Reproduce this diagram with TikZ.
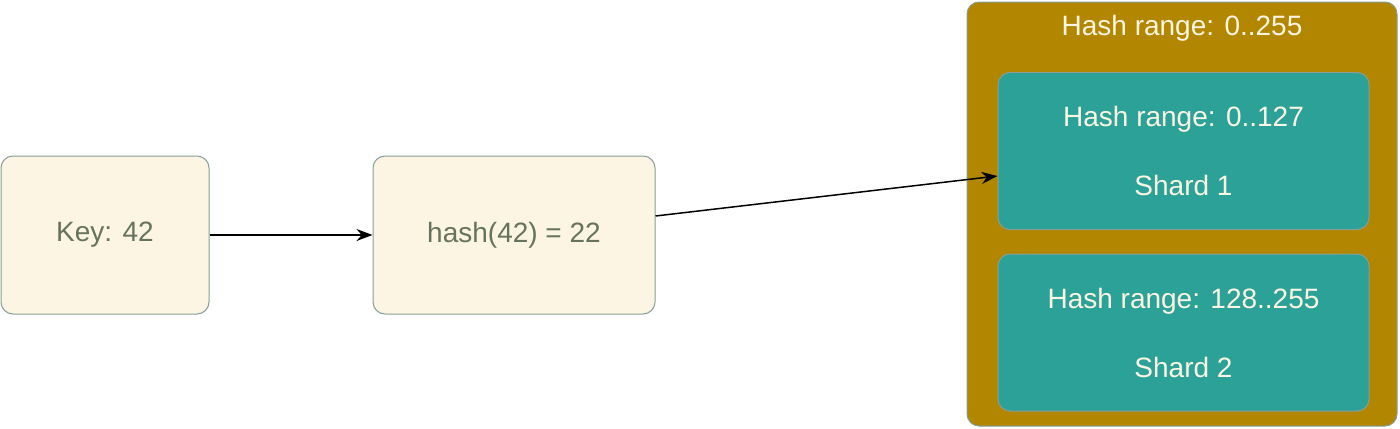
\documentclass[tikz,border=0pt]{standalone}
\usepackage{fontspec}
\setmainfont{Liberation Sans}
\usepackage{xcolor}
\usetikzlibrary{positioning, arrows.meta}

\definecolor{boxfill}{HTML}{FCF5E3}
\definecolor{boxline}{HTML}{879E96}
\definecolor{boxtext}{HTML}{66735F}
\definecolor{rangefill}{HTML}{B38600}
\definecolor{shardfill}{HTML}{2CA197}
\definecolor{shardtext}{HTML}{FCF5E3}

\tikzset{
  keybox/.style={draw=boxline, fill=boxfill, rounded corners=6pt, line width=0.5pt,
    text=boxtext, minimum height=79pt, font=\fontsize{14}{17}\selectfont},
  rangebox/.style={draw=boxline, fill=rangefill, rounded corners=6pt, line width=0.5pt,
    minimum width=215pt, minimum height=212pt},
  shardbox/.style={draw=boxline, fill=shardfill, rounded corners=6pt, line width=0.5pt,
    text=shardtext, align=center, minimum width=185.5pt, minimum height=78.5pt,
    font=\fontsize{14}{34.5}\selectfont},
}

\begin{document}
\begin{tikzpicture}[x=0.5pt, y=-0.5pt, ->, >={Stealth[length=8pt,width=6pt]}, line width=0.75pt]
      \useasboundingbox (0,0) rectangle (1400,428);

      \node[keybox, minimum width=104pt] (key) at (105,235) {Key: 42};
      \node[keybox, minimum width=141pt] (hash) at (514,235) {hash(42) = 22};

      \node[rangebox] (range) at (1182,214) {};
      \node[text=shardtext, font=\fontsize{14}{17}\selectfont] (rangetitle) at (1182,28) {Hash range: 0..255};
      \node[shardbox] (shard1) at (1183.5,151) {Hash range: 0..127\\Shard 1};
      \node[shardbox] (shard2) at (1183.5,332.5) {Hash range: 128..255\\Shard 2};

      \draw (key) -- (hash);
      \draw ([yshift=9.5pt]hash.east) -- ([yshift=-12.5pt]shard1.west);
    \end{tikzpicture}
\end{document}
